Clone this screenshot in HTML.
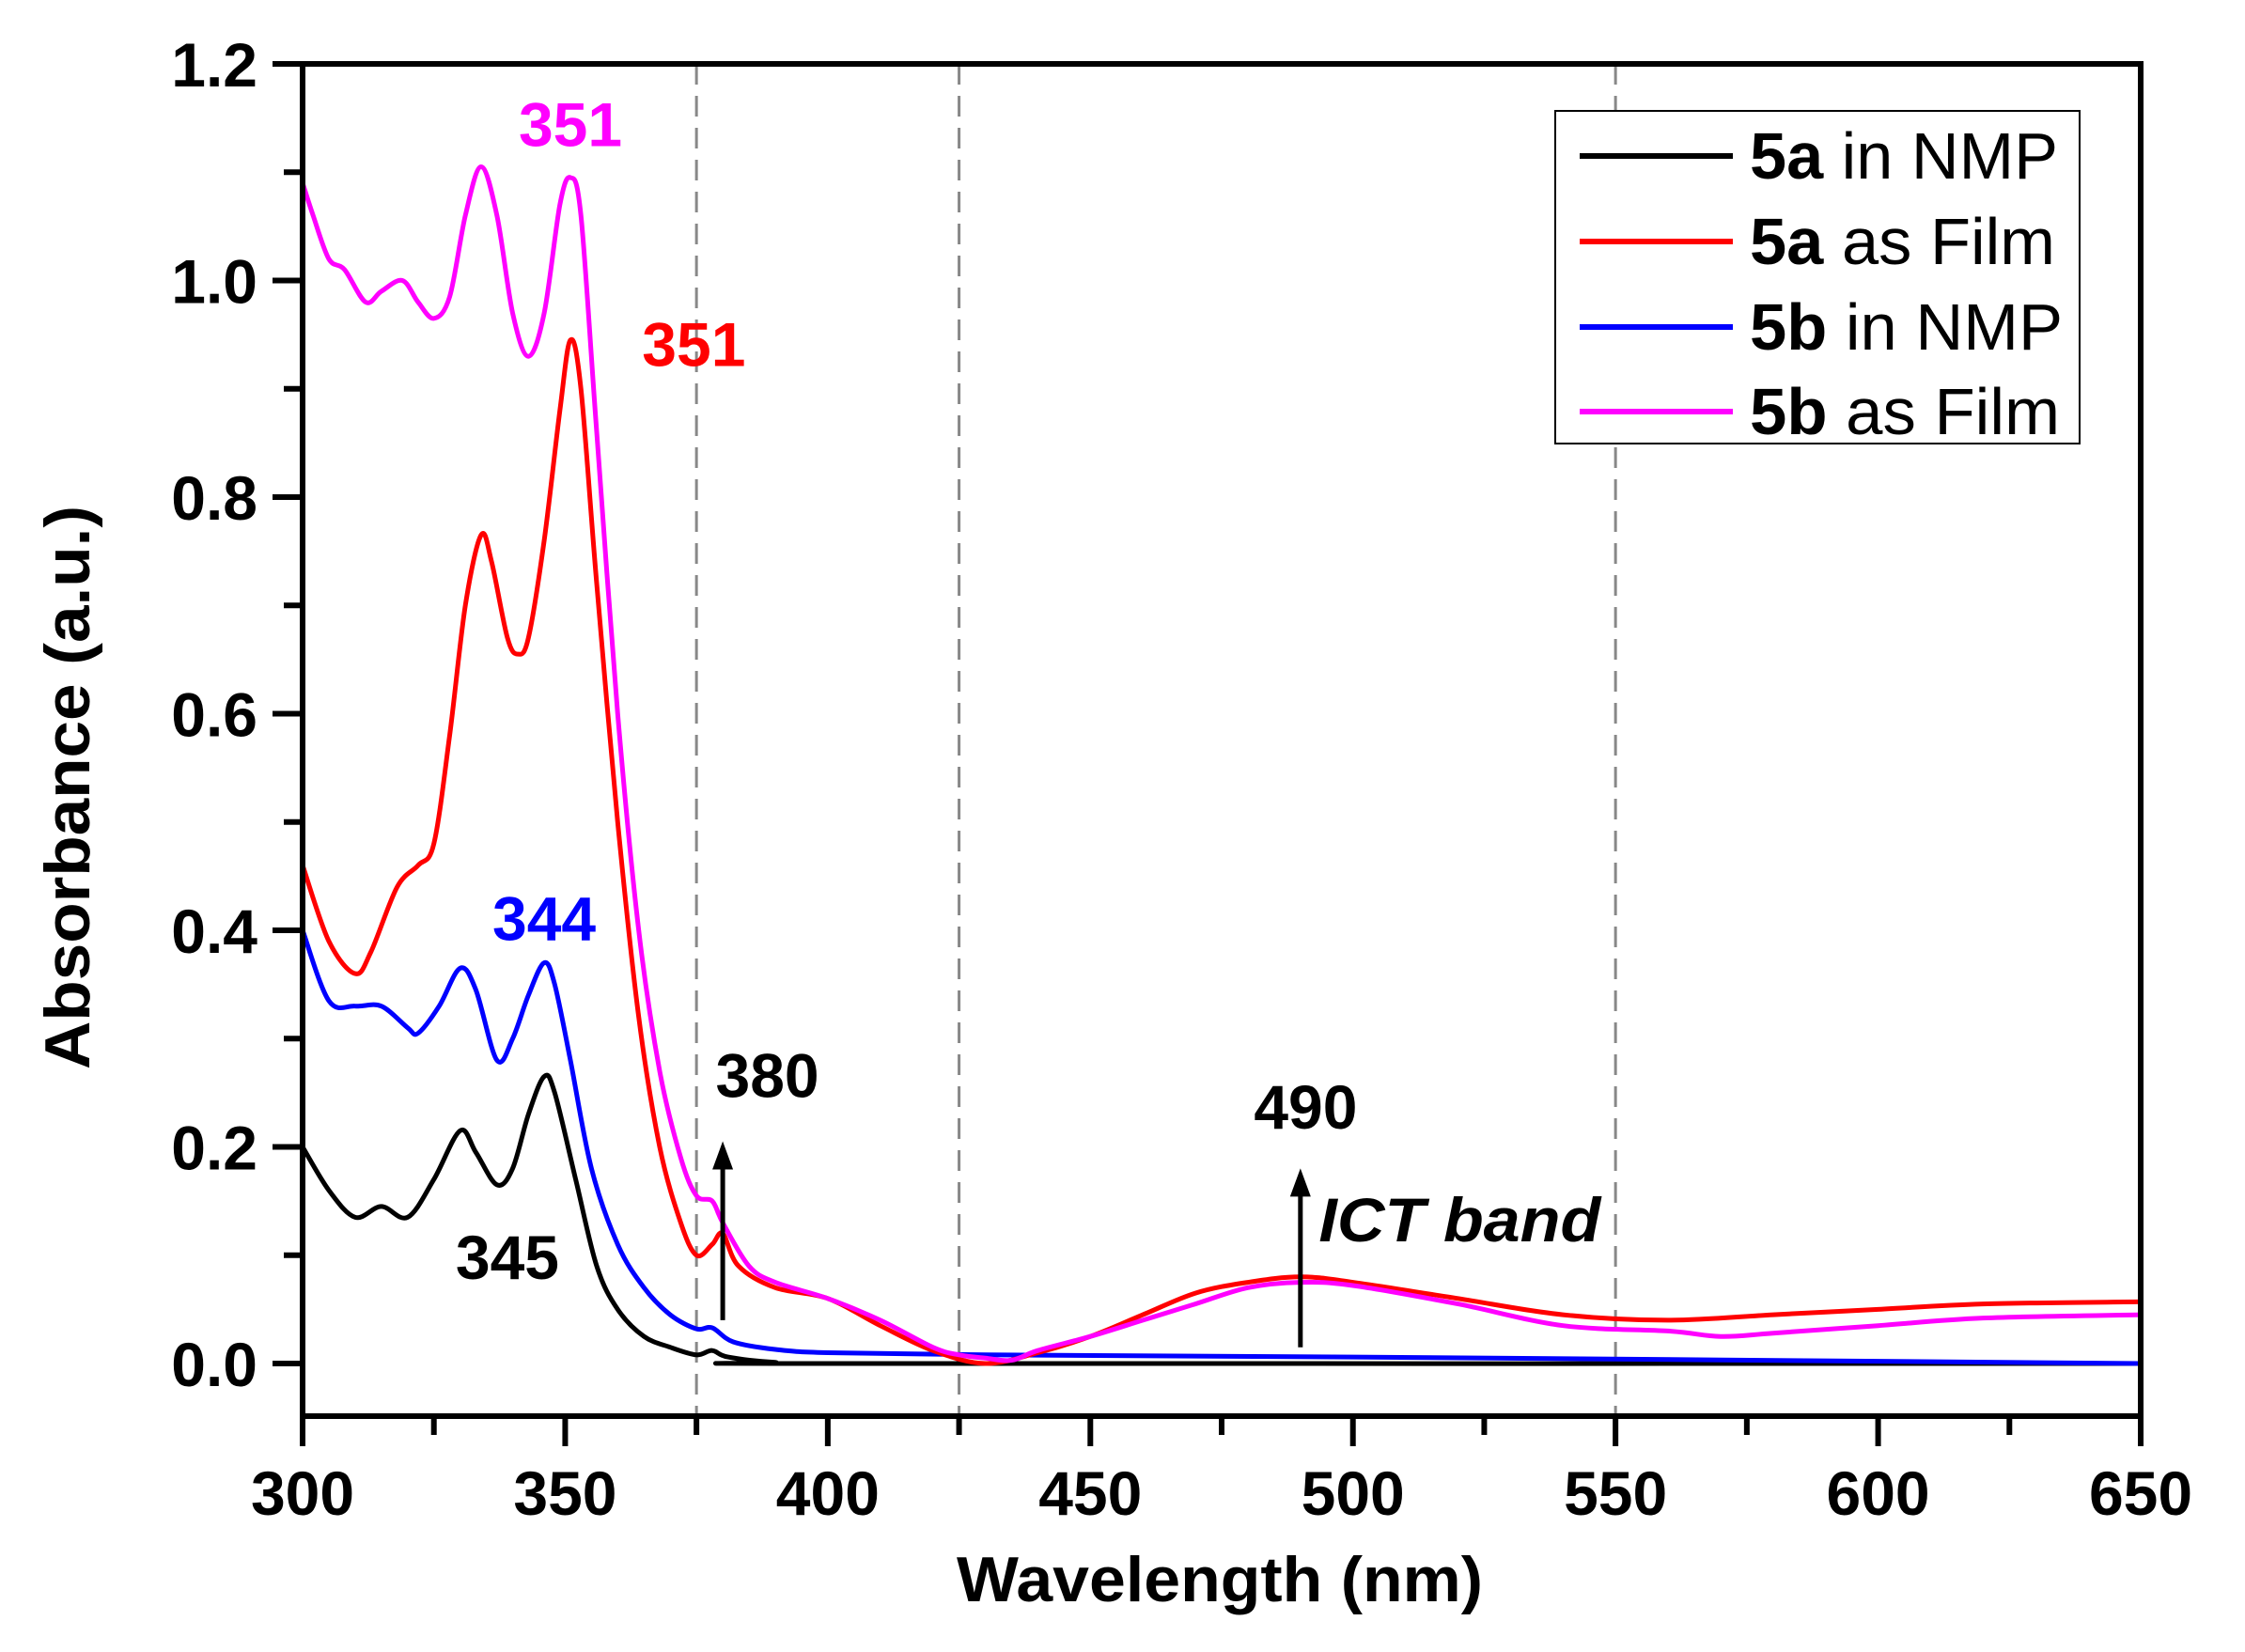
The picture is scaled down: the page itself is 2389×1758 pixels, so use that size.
<!DOCTYPE html>
<html><head><meta charset="utf-8"><style>
html,body{margin:0;padding:0;background:#fff}
svg{display:block}
text{font-family:"Liberation Sans",Arial,sans-serif}
</style></head><body>
<svg id="s" width="2389" height="1758" viewBox="0 0 2389 1758" xmlns="http://www.w3.org/2000/svg">
<rect width="2389" height="1758" fill="#fff"/>
<g id="dash" stroke="#888" stroke-width="3" stroke-dasharray="22,12"></g>
<g id="curves" fill="none" stroke-width="5" stroke-linejoin="round"></g>
<g id="axes" stroke="#000" stroke-width="6" fill="none"></g>
<g id="lbl" font-weight="bold" font-size="66" fill="#000"></g>
<rect x="1655" y="118" width="558" height="354" fill="#fff" stroke="#000" stroke-width="2"/>
<g stroke-width="6">
<line x1="1681" y1="166" x2="1844" y2="166" stroke="#000"/>
<line x1="1681" y1="257" x2="1844" y2="257" stroke="#f00"/>
<line x1="1681" y1="348" x2="1844" y2="348" stroke="#00f"/>
<line x1="1681" y1="438" x2="1844" y2="438" stroke="#f0f"/>
</g>
<g font-size="70" fill="#000">
<text x="1862" y="190" textLength="328" lengthAdjust="spacingAndGlyphs"><tspan font-weight="bold">5a</tspan> in NMP</text>
<text x="1862" y="281" textLength="325" lengthAdjust="spacingAndGlyphs"><tspan font-weight="bold">5a</tspan> as Film</text>
<text x="1862" y="372" textLength="333" lengthAdjust="spacingAndGlyphs"><tspan font-weight="bold">5b</tspan> in NMP</text>
<text x="1862" y="462" textLength="330" lengthAdjust="spacingAndGlyphs"><tspan font-weight="bold">5b</tspan> as Film</text>
</g>
<text x="1298" y="1704" text-anchor="middle" font-weight="bold" font-size="68" textLength="560" lengthAdjust="spacingAndGlyphs">Wavelength (nm)</text>
<text transform="translate(95,838) rotate(-90)" text-anchor="middle" font-weight="bold" font-size="68" textLength="600" lengthAdjust="spacingAndGlyphs">Absorbance (a.u.)</text>
</svg>
<script>
const X=n=>322+(n-300)*1956/350, Y=a=>1451-a*1152.5;
const NS="http://www.w3.org/2000/svg";
function el(p,t,a,txt){const e=document.createElementNS(NS,t);for(const k in a)e.setAttribute(k,a[k]);if(txt!=null)e.textContent=txt;document.getElementById(p).appendChild(e);return e;}
function path(pts){const P=pts.map(p=>[X(p[0]),Y(p[1])]);let d="M"+P[0][0]+","+P[0][1];
for(let i=0;i<P.length-1;i++){const p0=P[Math.max(0,i-1)],p1=P[i],p2=P[i+1],p3=P[Math.min(P.length-1,i+2)];
const c1=[p1[0]+(p2[0]-p0[0])/6,p1[1]+(p2[1]-p0[1])/6],c2=[p2[0]-(p3[0]-p1[0])/6,p2[1]-(p3[1]-p1[1])/6];
d+=`C${c1[0].toFixed(1)},${c1[1].toFixed(1)} ${c2[0].toFixed(1)},${c2[1].toFixed(1)} ${p2[0].toFixed(1)},${p2[1].toFixed(1)}`;}return d;}
[375,425,550].forEach(n=>el("dash","line",{x1:X(n),y1:68,x2:X(n),y2:1507}));
const black=[[300,.2],[305,.16],[310,.135],[315,.145],[320,.135],[325,.17],[330,.215],[333,.195],[337,.165],[340,.18],[343,.23],[346,.265],[348,.25],[352,.17],[356,.09],[360,.05],[365,.025],[370,.015],[375,.008],[378,.012],[381,.006],[390,.001],[400,0],[650,0]];
const blue=[[300,.4],[305,.335],[310,.33],[315,.33],[320,.31],[322,.305],[326,.33],[330,.365],[333,.345],[337,.28],[340,.3],[343,.34],[346,.37],[348,.35],[351,.28],[355,.18],[360,.11],[365,.07],[370,.045],[375,.032],[378,.033],[382,.02],[390,.013],[400,.01],[430,.008],[500,.006],[650,0]];
const red=[[300,.46],[305,.39],[310,.36],[313,.38],[318,.44],[322,.46],[325,.48],[328,.58],[331,.7],[334,.765],[336,.74],[339,.67],[341,.655],[343,.67],[346,.76],[349,.88],[351,.945],[353,.9],[356,.72],[360,.5],[364,.32],[368,.2],[372,.13],[375,.1],[378,.11],[380,.12],[383,.09],[390,.07],[400,.06],[410,.035],[420,.012],[430,0],[440,.01],[450,.025],[460,.045],[470,.065],[480,.075],[490,.08],[500,.075],[520,.06],[540,.045],[560,.04],[580,.045],[600,.05],[620,.055],[650,.057]];
const mag=[[300,1.09],[302,1.06],[305,1.02],[308,1.01],[312,.98],[315,.99],[319,1.0],[322,.98],[325,.965],[328,.985],[331,1.06],[334,1.105],[337,1.06],[340,.97],[343,.93],[346,.97],[349,1.07],[351,1.095],[353,1.06],[356,.86],[360,.6],[364,.4],[368,.27],[372,.19],[375,.155],[378,.15],[380,.13],[385,.09],[390,.075],[400,.06],[410,.04],[420,.015],[425,.008],[430,.005],[435,.003],[440,.012],[450,.025],[460,.04],[470,.055],[480,.07],[490,.075],[500,.072],[520,.055],[540,.035],[560,.03],[570,.025],[580,.028],[600,.035],[620,.042],[650,.045]];
[[black,"#000"],[blue,"#00f"],[red,"#f00"],[mag,"#f0f"]].forEach(([d,c])=>el("curves","path",{d:path(d),stroke:c}));
el("axes","rect",{x:322,y:68,width:1956,height:1439});
for(let n=300;n<=650;n+=25){const maj=n%50==0;el("axes","line",{x1:X(n),y1:1507,x2:X(n),y2:maj?1539:1527});
 if(maj)el("lbl","text",{x:X(n),y:1612,"text-anchor":"middle"},String(n));}
for(let i=0;i<=12;i++){const a=i/10,maj=i%2==0;el("axes","line",{x1:maj?290:302,y1:Y(a),x2:322,y2:Y(a)});
 if(maj)el("lbl","text",{x:274,y:Y(a)+24,"text-anchor":"end"},a.toFixed(1));}
[[380,.04,.2],[490,.015,.175]].forEach(([n,a,b])=>{el("axes","line",{x1:X(n),y1:Y(a),x2:X(n),y2:Y(b)+20,"stroke-width":5});
 el("lbl","polygon",{points:`${X(n)-11},${Y(b)+24} ${X(n)+11},${Y(b)+24} ${X(n)},${Y(b)-6}`});});
const ann=[[351,1.143,"351","#f0f"],[374.5,.94,"351","#f00"],[346,.41,"344","#00f"],[339,.097,"345","#000"],[388.5,.265,"380","#000"],[491,.236,"490","#000"]];
ann.forEach(([n,a,t,c])=>el("lbl","text",{x:X(n),y:Y(a)+22,"text-anchor":"middle",fill:c},t));
el("lbl","text",{x:X(493.5),y:Y(.132)+22,"font-style":"italic",textLength:300,lengthAdjust:"spacingAndGlyphs"},"ICT band");
</script>
</body></html>
